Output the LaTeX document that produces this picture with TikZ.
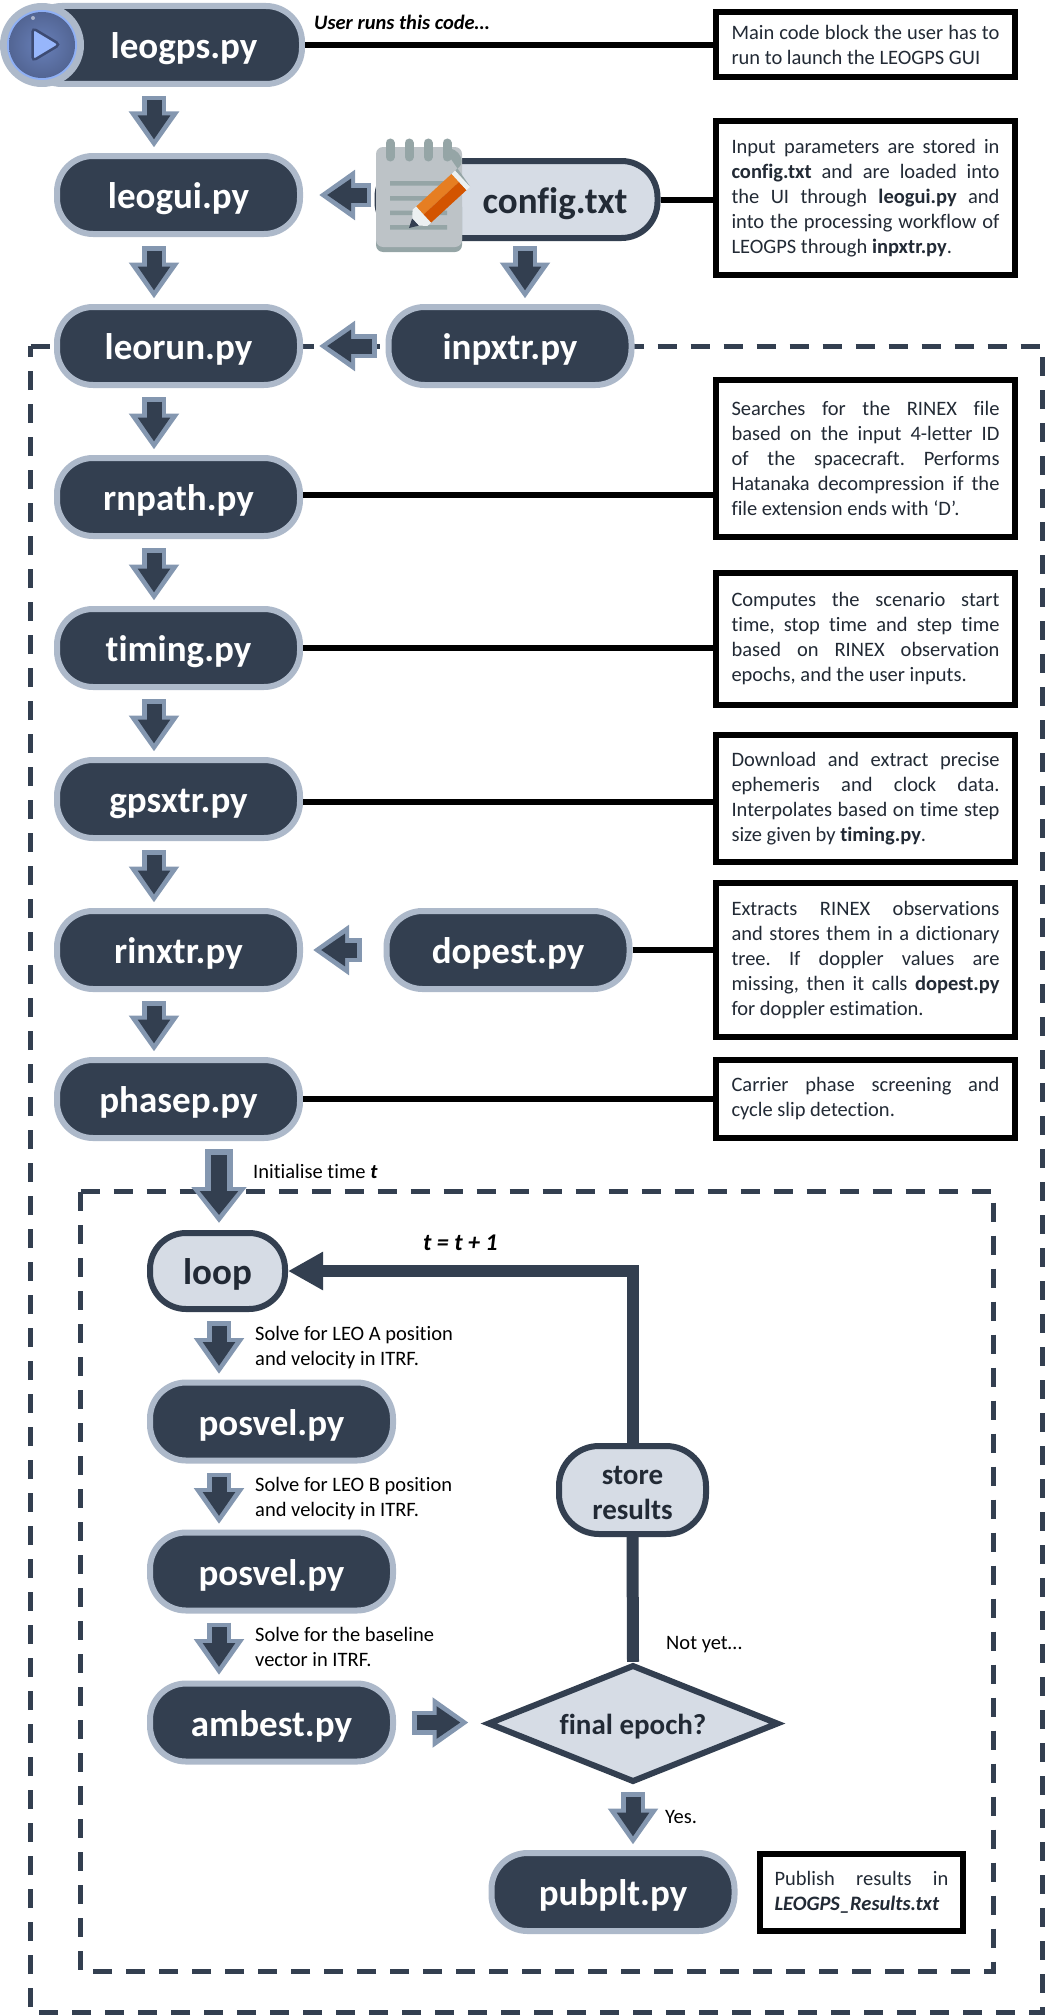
\documentclass[tikz,border=0pt]{standalone}
\usepackage{fontspec}
\setmainfont{Carlito}[Ligatures=NoCommon]
\usepackage{xcolor}
\usetikzlibrary{arrows.meta,shapes.geometric}
\definecolor{blockdark}{HTML}{333F50}
\definecolor{blockedge}{HTML}{ADB9CA}
\definecolor{blocklight}{HTML}{D6DCE5}
\definecolor{arrowedge}{HTML}{8497B0}
\definecolor{inktext}{HTML}{222A35}
\definecolor{padbody}{HTML}{BDC3C7}
\definecolor{padshade}{HTML}{95A5A6}
\definecolor{pencillight}{HTML}{E67E22}
\definecolor{pencildark}{HTML}{D35400}
\definecolor{pencilwood}{HTML}{ECF0F1}
\definecolor{playbody}{HTML}{6177AE}
\definecolor{playrim}{HTML}{8FB0F5}
\definecolor{playface}{HTML}{97B6FB}
\definecolor{playline}{HTML}{3D4B73}
\tikzset{
  pyblock/.style={draw=blockedge,fill=blockdark,text=white,line width=6pt,rounded corners=36pt,
    minimum width=243pt,minimum height=78pt,inner sep=0pt,text height=32pt,text depth=5pt,
    font=\fontsize{37}{44}\selectfont\bfseries},
  lightblock/.style={pyblock,draw=blockdark,fill=blocklight,text=inktext},
  notebox/.style={draw=black,fill=white,line width=6pt,text=inktext,text width=268pt,inner xsep=15.5pt,
    inner ysep=0pt,align=justify,font=\fontsize{20.5}{25}\selectfont\frenchspacing},
  sidetext/.style={anchor=west,inner sep=0pt,align=left,font=\fontsize{20.5}{25}\selectfont},
  leader/.style={draw=black,line width=6pt},
  flowline/.style={draw=blockdark,line width=12pt},
  frameline/.style={draw=blockdark,line width=5pt,dash pattern=on 19pt off 14pt},
  blockarrow/.style 2 args={draw=blockdark,line width=15pt,shorten <=#1+4.5pt,shorten >=#2+8pt,
    -{Triangle[length=24pt,width=31pt]},
    preaction={draw=arrowedge,line width=24pt,shorten <=#1,shorten >=#2,
      -{Triangle[length=36pt,width=48pt]}}},
  bigarrow/.style 2 args={draw=blockdark,line width=16pt,shorten <=#1+6pt,shorten >=#2+8pt,
    -{Triangle[length=24pt,width=37pt]},
    preaction={draw=arrowedge,line width=28pt,shorten <=#1,shorten >=#2,
      -{Triangle[length=36pt,width=53pt]}}},
}
\begin{document}
\begin{tikzpicture}[x=1pt,y=-1pt]
\useasboundingbox (0,0) rectangle (1045,2015);
\coordinate (flowx) at (154,0);
\coordinate (inpx) at (525,0);
\coordinate (loopx) at (219,0);

\draw[frameline] (30.5,346) -- (1042.5,346) -- (1042.5,2012.5) -- (30.5,2012.5) -- cycle;
\draw[frameline] (80.5,1191.5) -- (993.5,1191.5) -- (993.5,1971) -- (80.5,1971) -- cycle;

\node[pyblock,minimum width=276pt] (leogps) at (164,45) {\hspace*{40pt}leogps.py};
\node[pyblock] (leogui) at (178.5,195) {leogui.py};
\node[lightblock,minimum width=280pt,minimum height=77pt] (config) at (517.5,199.5) {\hspace*{75pt}config.txt};
\node[pyblock] (leorun) at (178.5,346) {leorun.py};
\node[pyblock] (inpxtr) at (510,346) {inpxtr.py};
\node[pyblock] (rnpath) at (178.5,497) {rnpath.py};
\node[pyblock] (timing) at (178.5,648) {timing.py};
\node[pyblock] (gpsxtr) at (178.5,799) {gpsxtr.py};
\node[pyblock] (rinxtr) at (178.5,950) {rinxtr.py};
\node[pyblock] (dopest) at (508,950) {dopest.py};
\node[pyblock] (phasep) at (178.5,1099) {phasep.py};
\node[lightblock,minimum width=135pt,minimum height=76pt] (loop) at (217.5,1271) {loop};
\node[pyblock] (posvela) at (271.5,1421.5) {posvel.py};
\node[pyblock] (posvelb) at (271.5,1571.5) {posvel.py};
\node[pyblock] (ambest) at (271.5,1722.5) {ambest.py};
\node[lightblock,minimum width=147pt,minimum height=88pt,rounded corners=40pt,align=center,
  text height=,text depth=,font=\fontsize{29}{35}\selectfont\bfseries] (store) at (632.5,1490) {\rule{0pt}{25pt}store\\results};
\node[diamond,draw=blockdark,fill=blocklight,text=inktext,line width=6pt,aspect=2.48,inner sep=0pt,
  text height=26pt,text depth=5pt,minimum width=291pt,minimum height=117.5pt,
  font=\fontsize{29}{35}\selectfont\bfseries] (final) at (633,1723.5) {final epoch?};
\node[pyblock] (pubplt) at (613,1892) {pubplt.py};

\node[notebox,minimum height=65pt] (mainnote) at (865.5,44.5) {Main code block the user has to\linebreak run to launch the LEOGPS GUI};
\node[notebox,minimum height=154pt] (confignote) at (865.5,198) {Input parameters are stored in\linebreak \textbf{config.txt} and are loaded into\linebreak the UI through \textbf{leogui.py} and\linebreak into the processing workflow of\linebreak LEOGPS through \textbf{inpxtr.py}.};
\node[notebox,minimum height=157pt] (rnpathnote) at (865.5,458.5) {Searches for the RINEX file\linebreak based on the input 4-letter ID\linebreak of the spacecraft. Performs\linebreak Hatanaka decompression if the\linebreak file extension ends with ‘D’.};
\node[notebox,minimum height=132pt] (timingnote) at (865.5,639) {Computes the scenario start\linebreak time, stop time and step time\linebreak based on RINEX observation\linebreak epochs, and the user inputs.};
\node[notebox,minimum height=127pt] (gpsxtrnote) at (865.5,798.5) {Download and extract precise\linebreak ephemeris and clock data.\linebreak Interpolates based on time step\linebreak size given by \textbf{timing.py}.};
\node[notebox,minimum height=154pt] (rinxtrnote) at (865.5,960) {Extracts RINEX observations\linebreak and stores them in a dictionary\linebreak tree. If doppler values are\linebreak missing, then it calls \textbf{dopest.py}\linebreak for doppler estimation.};
\node[notebox,minimum height=78pt] (phasepnote) at (865.5,1099) {Carrier phase screening and\linebreak cycle slip detection.};
\node[notebox,text width=174pt,inner xsep=14.5pt,minimum height=77pt] (pubpltnote) at (861.5,1892.5) {Publish results in\linebreak \textbf{\textit{LEOGPS\_Results.txt}}};

\node[sidetext,font=\fontsize{20.5}{25}\selectfont\bfseries\itshape] (userlabel) at (314,22) {User runs this code…};
\node[sidetext] (initlabel) at (253,1171) {Initialise time \textbf{\textit{t}}};
\node[sidetext,font=\fontsize{24}{29}\selectfont\bfseries\itshape] (steplabel) at (423,1243) {t = t + 1};
\node[sidetext] (solvea) at (255,1347.5) {Solve for LEO A position\\and velocity in ITRF.};
\node[sidetext] (solveb) at (255,1498.5) {Solve for LEO B position\\and velocity in ITRF.};
\node[sidetext] (solvec) at (255,1646.5) {Solve for the baseline\\vector in ITRF.};
\node[sidetext] (notyet) at (666,1645) {Not yet…};
\node[sidetext] (yeslabel) at (665,1817) {Yes.};

\draw[leader] (leogps.east) -- (leogps.east -| mainnote.west);
\draw[leader] (config.east) -- (config.east -| confignote.west);
\draw[leader] ([yshift=2pt]rnpath.east) -- ([yshift=2pt]rnpath.east -| rnpathnote.west);
\draw[leader] (timing.east) -- (timing.east -| timingnote.west);
\draw[leader] ([yshift=-3pt]gpsxtr.east) -- ([yshift=-3pt]gpsxtr.east -| gpsxtrnote.west);
\draw[leader] (dopest.east) -- (dopest.east -| rinxtrnote.west);
\draw[leader] (phasep.east) -- (phasep.east -| phasepnote.west);

\draw[flowline] (final.north) -- (store.south);
\draw[flowline,-{Triangle[length=35pt,width=36pt]}] (store.north) |- (loop.east);

\draw[blockarrow={9pt}{5.5pt}] (leogps.south -| flowx) -- (leogui.north -| flowx);
\draw[blockarrow={9pt}{5.5pt}] (leogui.south -| flowx) -- (leorun.north -| flowx);
\draw[blockarrow={9pt}{5.5pt}] (leorun.south -| flowx) -- (rnpath.north -| flowx);
\draw[blockarrow={9pt}{5.5pt}] (rnpath.south -| flowx) -- (timing.north -| flowx);
\draw[blockarrow={9pt}{5.5pt}] (timing.south -| flowx) -- (gpsxtr.north -| flowx);
\draw[blockarrow={9pt}{5.5pt}] (gpsxtr.south -| flowx) -- (rinxtr.north -| flowx);
\draw[blockarrow={9pt}{5.5pt}] (rinxtr.south -| flowx) -- (phasep.north -| flowx);
\draw[blockarrow={5pt}{5.5pt}] (config.south -| inpx) -- (inpxtr.north -| inpx);
\draw[blockarrow={3.5pt}{16pt}] (config.west |- leogui.east) -- (leogui.east);
\draw[blockarrow={9pt}{16pt}] (inpxtr.west) -- (leorun.east);
\draw[blockarrow={22pt}{10pt}] (dopest.west) -- (rinxtr.east);
\draw[bigarrow={8pt}{7pt}] (phasep.south -| loopx) -- (loop.north -| loopx);
\draw[blockarrow={9pt}{5.5pt}] (loop.south -| loopx) -- (posvela.north -| loopx);
\draw[blockarrow={9pt}{5.5pt}] (posvela.south -| loopx) -- (posvelb.north -| loopx);
\draw[blockarrow={9pt}{5.5pt}] (posvelb.south -| loopx) -- (ambest.north -| loopx);
\draw[blockarrow={16pt}{16pt}] (ambest.east) -- (ambest.east -| final.west);
\draw[blockarrow={7pt}{5.5pt}] (final.south) -- (final.south |- pubplt.north);

\fill[blockedge] (42,45) circle (42);
\fill[playrim] (42,45) circle (35);
\shade[inner color=playbody!85!playrim,outer color=playbody!85!black] (42,45) circle (33);
\fill[white,opacity=.5] (33,18) circle (2);
\draw[draw=playline,fill=playface,line width=2.5pt,rounded corners=4pt] (32.5,28) -- (60,44.5) -- (32.5,61) -- cycle;

\fill[padshade,rounded corners=7pt] (376,200) rectangle (462,252);
\fill[padbody,rounded corners=7pt] (376,147) rectangle (462,247);
\fill[padshade] (390,181) rectangle (447,185.5) (390,196) rectangle (447,200.5) (390,210.5) rectangle (447,215) (390,225) rectangle (447,229.5);
\draw[padshade,line width=9pt,line cap=round] (390,143) -- (390,157) (409,143) -- (409,157) (428,143) -- (428,157) (447,143) -- (447,157);
\begin{scope}[shift={(409,228)},rotate=42.6]
  \fill[blockdark] (0,0) -- (9,-5) -- (9,5) -- cycle;
  \fill[pencilwood] (9,-5) -- (15,-11) -- (20,-11) -- (20,11) -- (15,11) -- (9,5) -- cycle;
  \fill[pencillight] (20,-11) rectangle (68,0);
  \fill[pencildark] (20,0) rectangle (68,11);
  \fill[pencilwood] (68,-11) rectangle (73,11);
  \fill[padshade] (73,-11) -- (79,-11) arc (90:-90:8 and 11) -- (73,11) -- cycle;
\end{scope}
\end{tikzpicture}
\end{document}
